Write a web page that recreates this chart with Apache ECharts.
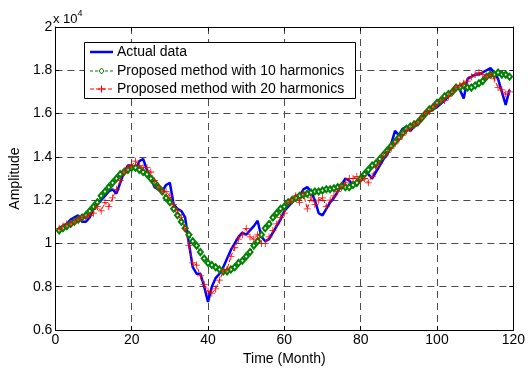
<!DOCTYPE html>
<html>
<head>
<meta charset="utf-8">
<script src="https://cdn.jsdelivr.net/npm/echarts@6/dist/echarts.min.js"></script>
<style>
html,body{margin:0;padding:0;background:#fff;}
#chart{width:528px;height:371px;}
</style>
</head>
<body>
<div id="chart"></div>
<script>
// Values in units of 10^4
var months = [];
for (var m = 1; m <= 119; m++) months.push(m);

var actualData = [
1.07,1.08,1.09,1.11,1.12,1.13,1.10,1.10,1.12,1.16,
1.18,1.20,1.22,1.24,1.25,1.23,1.28,1.33,1.36,1.36,
1.34,1.38,1.39,1.34,1.30,1.26,1.25,1.24,1.27,1.28,
1.18,1.16,1.15,1.12,1.00,0.89,0.86,0.86,0.80,0.73,
0.80,0.84,0.86,0.89,0.93,0.97,1.00,1.03,1.05,1.04,
1.06,1.08,1.105,1.03,1.01,1.02,1.05,1.08,1.11,1.15,
1.17,1.19,1.21,1.22,1.25,1.26,1.24,1.20,1.14,1.13,
1.16,1.19,1.21,1.24,1.27,1.30,1.29,1.27,1.27,1.30,
1.33,1.32,1.30,1.33,1.36,1.39,1.41,1.46,1.52,1.50,
1.53,1.54,1.52,1.54,1.55,1.58,1.60,1.61,1.62,1.63,
1.645,1.66,1.68,1.70,1.73,1.71,1.67,1.76,1.77,1.78,
1.78,1.79,1.80,1.81,1.79,1.76,1.70,1.64,1.71
];

var harmonics10 = [
1.06,1.07,1.08,1.09,1.10,1.11,1.12,1.13,1.15,1.17,
1.19,1.22,1.24,1.26,1.28,1.30,1.32,1.33,1.34,1.35,
1.35,1.34,1.33,1.32,1.30,1.28,1.26,1.24,1.21,1.19,
1.16,1.13,1.10,1.07,1.04,1.01,0.99,0.96,0.93,0.91,
0.90,0.89,0.88,0.87,0.87,0.88,0.89,0.91,0.92,0.94,
0.96,0.99,1.01,1.04,1.07,1.09,1.12,1.14,1.16,1.17,
1.19,1.20,1.21,1.22,1.225,1.23,1.235,1.24,1.24,1.245,
1.25,1.25,1.255,1.26,1.265,1.26,1.26,1.27,1.28,1.30,
1.32,1.34,1.36,1.37,1.39,1.41,1.43,1.45,1.47,1.49,
1.51,1.53,1.54,1.55,1.56,1.58,1.60,1.62,1.63,1.65,
1.66,1.68,1.69,1.70,1.72,1.72,1.73,1.72,1.72,1.73,
1.74,1.75,1.77,1.78,1.78,1.79,1.78,1.78,1.77
];

var harmonics20 = [
1.07,1.08,1.09,1.09,1.10,1.11,1.12,1.12,1.13,1.14,
1.17,1.15,1.19,1.17,1.21,1.25,1.29,1.33,1.35,1.36,
1.38,1.36,1.35,1.35,1.33,1.29,1.26,1.24,1.24,1.22,
1.18,1.15,1.12,1.07,0.99,0.91,0.90,0.85,0.81,0.78,
0.77,0.79,0.83,0.87,0.88,0.94,0.98,1.02,1.04,1.07,
1.03,1.02,1.04,1.00,1.00,1.03,1.06,1.09,1.12,1.14,
1.19,1.20,1.22,1.19,1.23,1.16,1.21,1.18,1.20,1.21,
1.17,1.20,1.22,1.24,1.26,1.28,1.30,1.30,1.31,1.29,
1.30,1.28,1.31,1.35,1.37,1.40,1.42,1.44,1.46,1.48,
1.50,1.52,1.53,1.55,1.56,1.58,1.60,1.61,1.63,1.64,
1.66,1.66,1.68,1.70,1.72,1.73,1.74,1.75,1.77,1.78,
1.79,1.78,1.77,1.78,1.76,1.72,1.71,1.69,1.70
];

var xTicks = [0, 20, 40, 60, 80, 100, 120];
var yTicks = [0.6, 0.8, 1, 1.2, 1.4, 1.6, 1.8, 2];

var seriesNames = ['Actual data', 'Proposed method with 10 harmonics', 'Proposed method with 20 harmonics'];

function pairs(vals) {
  return months.map(function (x, i) { return [x, vals[i]]; });
}

var FONT = '"Liberation Sans", Arial, sans-serif';
var plusPath = 'path://M4.45,0h1.1v4.45h4.45v1.1h-4.45v4.45h-1.1v-4.45h-4.45v-1.1h4.45z';

var gridLine = { show: true, lineStyle: { color: '#4a4a4a', type: [7, 5], width: 1 } };

// custom legend (box + samples + text)
var LX = 84, LY = 42, LW = 271, LH = 56;
var rowY = [52, 71, 89];
var legendGraphics = [
  { type: 'rect', shape: { x: LX + 0.5, y: LY + 0.5, width: LW, height: LH },
    style: { fill: '#fff', stroke: '#000', lineWidth: 1 }, z: 100 },
  { type: 'line', shape: { x1: 90, y1: rowY[0], x2: 113, y2: rowY[0] },
    style: { stroke: '#0000ff', lineWidth: 2.5 }, z: 101 },
  { type: 'line', shape: { x1: 90, y1: rowY[1], x2: 113, y2: rowY[1] },
    style: { stroke: '#008000', lineWidth: 1, lineDash: [3, 2] }, z: 101 },
  { type: 'polygon', shape: { points: [[101.5, rowY[1] - 3], [104, rowY[1]], [101.5, rowY[1] + 3], [99, rowY[1]]] },
    style: { fill: '#fff', stroke: '#008000', lineWidth: 1 }, z: 102 },
  { type: 'line', shape: { x1: 90, y1: rowY[2], x2: 113, y2: rowY[2] },
    style: { stroke: '#ff0000', lineWidth: 1, lineDash: [4, 2] }, z: 101 },
  { type: 'line', shape: { x1: 98, y1: rowY[2], x2: 105, y2: rowY[2] },
    style: { stroke: '#ff0000', lineWidth: 1.1 }, z: 102 },
  { type: 'line', shape: { x1: 101.5, y1: rowY[2] - 3.5, x2: 101.5, y2: rowY[2] + 3.5 },
    style: { stroke: '#ff0000', lineWidth: 1.1 }, z: 102 }
];
seriesNames.forEach(function (n, i) {
  legendGraphics.push({
    type: 'text', x: 117, y: rowY[i], z: 103,
    style: { text: n, fontFamily: FONT, fontSize: 14, fill: '#000', verticalAlign: 'middle', align: 'left' }
  });
});
legendGraphics.push({
  type: 'text', left: 53, top: 9,
  style: {
    text: '{a|x 10}{b|4}',
    rich: {
      a: { fontFamily: FONT, fontSize: 13, fill: '#000', verticalAlign: 'bottom' },
      b: { fontFamily: FONT, fontSize: 9, fill: '#000', verticalAlign: 'top', padding: [0, 0, 8, 0] }
    }
  }
});

var chart = echarts.init(document.getElementById('chart'), null, { renderer: 'canvas' });
chart.setOption({
  animation: false,
  backgroundColor: '#fff',
  grid: { left: 52, right: 13, top: 27, bottom: 35, containLabel: false },
  xAxis: [{
    type: 'value', min: xTicks[0], max: xTicks[xTicks.length - 1], interval: 20,
    name: 'Time (Month)', nameLocation: 'middle', nameGap: 22,
    nameTextStyle: { fontFamily: FONT, fontSize: 14, color: '#000' },
    axisLine: { show: true, onZero: false, lineStyle: { color: '#000', width: 1 } },
    axisTick: { show: true, inside: true, length: 4, lineStyle: { color: '#000' } },
    axisLabel: { fontFamily: FONT, fontSize: 14, color: '#000', margin: 3 },
    splitLine: gridLine
  }, {
    type: 'value', position: 'top', min: xTicks[0], max: xTicks[xTicks.length - 1], interval: 20,
    axisLine: { show: true, onZero: false, lineStyle: { color: '#000', width: 1 } },
    axisTick: { show: true, inside: true, length: 4, lineStyle: { color: '#000' } },
    axisLabel: { show: false }, splitLine: { show: false }
  }],
  yAxis: [{
    type: 'value', min: yTicks[0], max: yTicks[yTicks.length - 1], interval: 0.2,
    name: 'Amplitude', nameLocation: 'middle', nameGap: 26, nameRotate: 90,
    nameTextStyle: { fontFamily: FONT, fontSize: 14, color: '#000' },
    axisLine: { show: true, onZero: false, lineStyle: { color: '#000', width: 1 } },
    axisTick: { show: true, inside: true, length: 4, lineStyle: { color: '#000' } },
    axisLabel: {
      fontFamily: FONT, fontSize: 14, color: '#000', margin: 3,
      formatter: function (v) { return String(parseFloat(v.toFixed(1))); }
    },
    splitLine: gridLine
  }, {
    type: 'value', position: 'right', min: yTicks[0], max: yTicks[yTicks.length - 1], interval: 0.2,
    axisLine: { show: true, onZero: false, lineStyle: { color: '#000', width: 1 } },
    axisTick: { show: true, inside: true, length: 4, lineStyle: { color: '#000' } },
    axisLabel: { show: false }, splitLine: { show: false }
  }],
  graphic: legendGraphics,
  series: [{
    name: seriesNames[0], type: 'line', data: pairs(actualData),
    showSymbol: false, symbol: 'none',
    lineStyle: { color: '#0000ff', width: 2.5 },
    itemStyle: { color: '#0000ff' }
  }, {
    name: seriesNames[1], type: 'line', data: pairs(harmonics10),
    symbol: 'emptyDiamond', symbolSize: [5, 6], showSymbol: true,
    lineStyle: { color: '#008000', width: 1, type: [3, 2] },
    itemStyle: { color: '#008000', borderColor: '#008000', borderWidth: 0.9 }
  }, {
    name: seriesNames[2], type: 'line', data: pairs(harmonics20),
    symbol: plusPath, symbolSize: 7, showSymbol: true,
    lineStyle: { color: '#ff0000', width: 1, type: [4, 2] },
    itemStyle: { color: '#ff0000' }
  }]
});
</script>
</body>
</html>
